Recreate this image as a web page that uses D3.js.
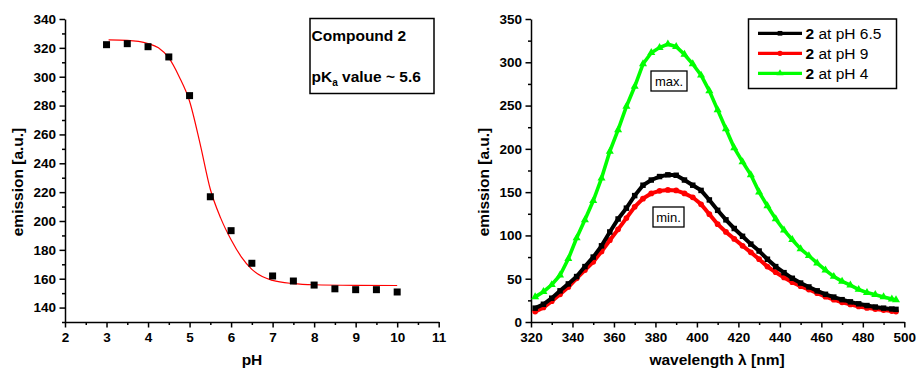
<!DOCTYPE html>
<html>
<head>
<meta charset="utf-8">
<script src="https://cdn.jsdelivr.net/npm/d3@7"></script>
<style>
    body { margin: 0; background: #fff; }
    svg text { font-family: Arial, "Liberation Sans", sans-serif; }
</style>
</head>
<body>
<div id="chart"></div>
<script>
// ------------------------------------------
// Data
// ------------------------------------------

// Left panel: titration points
const pHValues = [3, 3.5, 4, 4.5, 5, 5.5, 6, 6.5, 7, 7.5, 8, 8.5, 9, 9.5, 10];
const pHEmission = [322.2, 322.9, 320.8, 313.7, 286.9, 216.8, 193.3, 170.7, 161.9, 158.4, 155.6, 153, 152.4, 152.4, 150.8];

// Left panel: red fit curve
const fitPH = [3.05, 3.5, 4, 4.25, 4.5, 4.75, 5, 5.25, 5.5, 5.75, 6, 6.25, 6.5, 6.75, 7, 7.5, 8, 9, 10];
const fitEmission = [325.5, 325.2, 323, 320, 313, 300, 283, 254, 222, 202, 187, 175, 166.5, 161.5, 158.8, 156.6, 155.8, 155.4, 155.3];

// Right panel: emission spectra
const wavelengths = [322, 326, 330, 334, 338, 342, 346, 350, 354, 358, 362, 366, 370, 374, 378, 382, 386, 390,
    394, 398, 402, 406, 410, 414, 418, 422, 426, 430, 434, 438, 442, 446, 450, 454, 458, 462, 466, 470,
    474, 478, 482, 486, 490, 494, 496];
const emissionPH65 = [16, 20.5, 27.5, 36, 44, 52.5, 64, 75, 88, 104, 119, 131.5, 146, 158, 164, 168, 170, 169.5,
    164, 158, 152, 141, 129, 118, 108, 99, 90, 82, 72.5, 64, 57, 50.5, 45, 40.5, 36, 32, 28.8, 25.8,
    23.3, 21, 19, 17.3, 16, 15, 14.6];
const emissionPH9 = [12, 16.8, 24, 32, 40.5, 50.5, 60, 69.5, 81.5, 94.5, 107, 120, 133, 142.5, 148.5, 151.5, 152.5, 152,
    148.5, 144, 136, 124.5, 113, 104, 96, 88, 80.5, 72.5, 64, 57.5, 51.5, 46, 41.3, 37.5, 33.3, 29.3, 25.8, 22.8,
    20.3, 18, 16.3, 14.9, 13.8, 12.6, 12];
const emissionPH4 = [29, 35, 43, 54, 73, 97, 118, 140, 166, 197, 222, 249, 272, 298, 311, 317, 321, 318,
    309, 298, 285, 267, 245, 223, 201, 185, 170, 150, 134, 119, 106, 95, 84.5, 76.5, 68, 60, 52.5, 47,
    42.5, 37.5, 34, 31.5, 29, 26.5, 25.5];

// Tick labels
const leftXTicks = [2, 3, 4, 5, 6, 7, 8, 9, 10, 11];
const leftXMinor = [2.5, 3.5, 4.5, 5.5, 6.5, 7.5, 8.5, 9.5, 10.5];
const leftYTicks = [140, 160, 180, 200, 220, 240, 260, 280, 300, 320, 340];
const leftYMinor = [130, 150, 170, 190, 210, 230, 250, 270, 290, 310, 330];
const rightXTicks = [320, 340, 360, 380, 400, 420, 440, 460, 480, 500];
const rightXMinor = [330, 350, 370, 390, 410, 430, 450, 470, 490];
const rightYTicks = [0, 50, 100, 150, 200, 250, 300, 350];
const rightYMinor = [25, 75, 125, 175, 225, 275, 325];

// Legend entries (order as in the figure)
const seriesNames = ["at pH 6.5", "at pH 9", "at pH 4"];
const seriesColors = ["#000000", "#ff0000", "#00ff00"];

const svg = d3.select("#chart").append("svg")
    .attr("width", 916)
    .attr("height", 371);

const tickFont = "bold 13.5px Arial, 'Liberation Sans', sans-serif";
const titleFont = "bold 15.5px Arial, 'Liberation Sans', sans-serif";

// helper to draw major + minor axis
function drawAxis(g, axisFn, scale, major, minor) {
    g.call(axisFn(scale).tickValues(major).tickSize(5.5).tickSizeOuter(0).tickPadding(axisFn === d3.axisBottom ? 5 : 3.5).tickFormat(d3.format("d")));
    g.append("g").call(axisFn(scale).tickValues(minor).tickSize(3).tickSizeOuter(0).tickFormat(""))
        .select(".domain").remove();
    g.selectAll("path, line").attr("stroke", "#000").attr("stroke-width", 1.5);
    g.selectAll("text").style("font", tickFont).attr("fill", "#000");
}

// ------------------------------------------
// Left panel: emission vs pH
// ------------------------------------------
const xL = d3.scaleLinear().domain([2, 11]).range([65, 438.7]);
const yL = d3.scaleLinear().domain([130, 340]).range([322, 19]);

drawAxis(svg.append("g").attr("transform", "translate(0,322)"), d3.axisBottom, xL, leftXTicks, leftXMinor);
drawAxis(svg.append("g").attr("transform", "translate(65,0)"), d3.axisLeft, yL, leftYTicks, leftYMinor);

// fit curve
const fitLine = d3.line()
    .x((d, i) => xL(fitPH[i]))
    .y(d => yL(d))
    .curve(d3.curveMonotoneX);

svg.append("path")
    .datum(fitEmission)
    .attr("d", fitLine)
    .attr("fill", "none")
    .attr("stroke", "#ff0000")
    .attr("stroke-width", 1.2);

// data points
svg.append("g").selectAll("rect")
    .data(pHEmission)
    .enter()
    .append("rect")
    .attr("x", (d, i) => xL(pHValues[i]) - 3.5)
    .attr("y", d => yL(d) - 3.5)
    .attr("width", 7)
    .attr("height", 7)
    .attr("fill", "#000");

// info box
svg.append("rect")
    .attr("x", 310).attr("y", 18.5)
    .attr("width", 124).attr("height", 75)
    .attr("fill", "#fff").attr("stroke", "#000").attr("stroke-width", 1.5);

svg.append("text")
    .attr("x", 311.5).attr("y", 40.5)
    .style("font", titleFont)
    .text("Compound 2");

const pkText = svg.append("text")
    .attr("x", 311.5).attr("y", 81.5)
    .style("font", titleFont);
pkText.append("tspan").text("pK");
pkText.append("tspan").attr("dy", 4).style("font-size", "10px").text("a");
pkText.append("tspan").attr("dy", -4).text(" value ~ 5.6");

// axis titles
svg.append("text")
    .attr("x", 252).attr("y", 365)
    .attr("text-anchor", "middle")
    .style("font", titleFont)
    .text("pH");

svg.append("text")
    .attr("transform", "translate(23,182) rotate(-90)")
    .attr("text-anchor", "middle")
    .style("font", titleFont)
    .text("emission [a.u.]");

// ------------------------------------------
// Right panel: emission spectra
// ------------------------------------------
const xR = d3.scaleLinear().domain([320, 500]).range([531, 904.3]);
const yR = d3.scaleLinear().domain([0, 350]).range([322, 19]);

drawAxis(svg.append("g").attr("transform", "translate(0,322)"), d3.axisBottom, xR, rightXTicks, rightXMinor);
drawAxis(svg.append("g").attr("transform", "translate(531,0)"), d3.axisLeft, yR, rightYTicks, rightYMinor);

const symbols = [d3.symbolSquare, d3.symbolCircle, d3.symbolTriangle];
const symbolSizes = [30, 26, 28];
const lineWidths = [4, 4, 3.6];
const allSeries = [emissionPH65, emissionPH9, emissionPH4];

const specLine = d3.line()
    .x((d, i) => xR(wavelengths[i]))
    .y(d => yR(d));

// draw red first, then black, then green
[1, 0, 2].forEach(k => {
    svg.append("path")
        .datum(allSeries[k])
        .attr("d", specLine)
        .attr("fill", "none")
        .attr("stroke", seriesColors[k])
        .attr("stroke-width", lineWidths[k]);

    svg.append("g").selectAll("path")
        .data(allSeries[k])
        .enter()
        .append("path")
        .attr("transform", (d, i) => `translate(${xR(wavelengths[i])},${yR(d)})`)
        .attr("d", d3.symbol().type(symbols[k]).size(symbolSizes[k]))
        .attr("fill", seriesColors[k]);
});

// max. / min. labels
[["max.", 651, 71, 36], ["min.", 653, 207, 31]].forEach(([txt, x, y, w]) => {
    svg.append("rect")
        .attr("x", x).attr("y", y)
        .attr("width", w).attr("height", 20)
        .attr("fill", "#fff").attr("stroke", "#000").attr("stroke-width", 1.3);
    svg.append("text")
        .attr("x", x + w / 2).attr("y", y + 15)
        .attr("text-anchor", "middle")
        .style("font", "13px Arial, 'Liberation Sans', sans-serif")
        .text(txt);
});

// legend
const legend = svg.append("g");
legend.append("rect")
    .attr("x", 748.5).attr("y", 19)
    .attr("width", 148).attr("height", 69.5)
    .attr("fill", "#fff").attr("stroke", "#000").attr("stroke-width", 1.5);

seriesNames.forEach((name, i) => {
    const y = 33.3 + i * 20;
    legend.append("line")
        .attr("x1", 758).attr("x2", 802)
        .attr("y1", y).attr("y2", y)
        .attr("stroke", seriesColors[i])
        .attr("stroke-width", 3.2);
    legend.append("path")
        .attr("transform", `translate(780,${y})`)
        .attr("d", d3.symbol().type(symbols[i]).size(22))
        .attr("fill", seriesColors[i]);
    const t = legend.append("text")
        .attr("x", 805.5).attr("y", y + 6)
        .style("font", "15.5px Arial, 'Liberation Sans', sans-serif");
    t.append("tspan").style("font-weight", "bold").text("2");
    t.append("tspan").text(" " + name);
});

// axis titles
svg.append("text")
    .attr("x", 717).attr("y", 365)
    .attr("text-anchor", "middle")
    .style("font", titleFont)
    .text("wavelength λ [nm]");

svg.append("text")
    .attr("transform", "translate(489,182) rotate(-90)")
    .attr("text-anchor", "middle")
    .style("font", titleFont)
    .text("emission [a.u.]");
</script>
</body>
</html>
